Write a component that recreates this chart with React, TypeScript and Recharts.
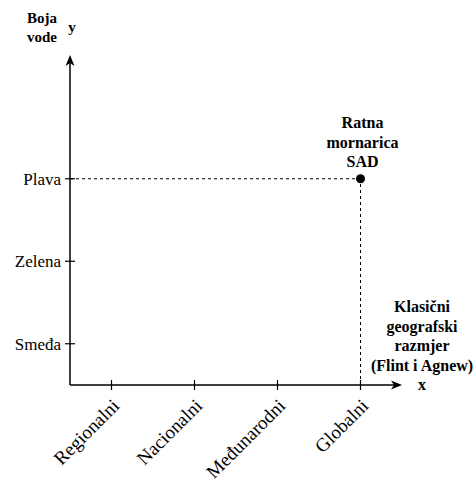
import React from "react";
import {
  ScatterChart,
  Scatter,
  XAxis,
  YAxis,
  ReferenceLine,
  LabelList,
} from "recharts";

// scale categories on each axis
const xCategories = ["Regionalni", "Nacionalni", "Međunarodni", "Globalni"];
const yCategories = ["Smeđa", "Zelena", "Plava"];
const xTicks = [1, 2, 3, 4];
const yTicks = [1, 2, 3];

// the single case placed on the chart
const pointName = ["Ratna", "mornarica", "SAD"];
const pointX = [4];
const pointY = [3];

const xTitle = ["Klasični", "geografski", "razmjer", "(Flint i Agnew)"];
const yTitle = ["Boja", "vode"];

const FONT = "Liberation Serif";
const DOMAIN: [number, number] = [0.5, 4.5];

const data = pointX.map((x, i) => ({ x, y: pointY[i], name: pointName.join(" ") }));

const plain = (size: number) => ({ fontFamily: FONT, fontSize: size, fill: "#000" });
const bold = (size: number) => ({ fontFamily: FONT, fontSize: size, fontWeight: 700, fill: "#000" });

const XTick = (props: any) => {
  const { x, y, payload } = props;
  const tx = x + 9;
  const ty = y + 22;
  return (
    <g>
      <line x1={x} y1={y - 5} x2={x} y2={y + 5} stroke="#000" strokeWidth={1.2} />
      <text x={tx} y={ty} textAnchor="end" transform={`rotate(-45, ${tx}, ${ty})`} style={plain(19)}>
        {xCategories[payload.value - 1]}
      </text>
    </g>
  );
};

const YTick = (props: any) => {
  const { x, y, payload } = props;
  return (
    <g>
      <line x1={x - 5} y1={y} x2={x + 5} y2={y} stroke="#000" strokeWidth={1.2} />
      <text x={x - 9} y={y + 6} textAnchor="end" style={plain(17)}>
        {yCategories[payload.value - 1]}
      </text>
    </g>
  );
};

// axis line with an arrow head at its far end
const Arrow = (props: any) => {
  const { x1, y1, x2, y2 } = props;
  const len = Math.hypot(x2 - x1, y2 - y1) || 1;
  const ux = (x2 - x1) / len;
  const uy = (y2 - y1) / len;
  const head = 11;
  const half = 4.5;
  const bx = x2 - ux * head;
  const by = y2 - uy * head;
  const nx = bx + ux * 3;
  const ny = by + uy * 3;
  return (
    <g>
      <line x1={x1} y1={y1} x2={nx} y2={ny} stroke="#000" strokeWidth={1.5} />
      <polygon
        points={`${x2},${y2} ${bx - uy * half},${by + ux * half} ${nx},${ny} ${bx + uy * half},${by - ux * half}`}
        fill="#000"
      />
    </g>
  );
};

const XTitle = (props: any) => {
  const vb = props.viewBox;
  const cx = vb.x + vb.width + 20;
  return (
    <g>
      {xTitle.map((line, i) => (
        <text key={line} x={cx} y={vb.y - 73 + i * 19.5} textAnchor="middle" style={bold(16)}>
          {line}
        </text>
      ))}
      <text x={cx} y={vb.y + 5} textAnchor="middle" style={bold(16)}>
        x
      </text>
    </g>
  );
};

const YTitle = (props: any) => {
  const vb = props.viewBox;
  const right = vb.x + vb.width;
  return (
    <g>
      {yTitle.map((line, i) => (
        <text key={line} x={right - 28} y={vb.y - 32 + i * 19} textAnchor="middle" style={bold(15)}>
          {line}
        </text>
      ))}
      <text x={right + 2} y={vb.y - 23} textAnchor="middle" style={bold(15)}>
        y
      </text>
    </g>
  );
};

const PointLabel = (props: any) => {
  const { x, y, width } = props;
  const cx = x + (width || 0) / 2;
  return (
    <g>
      {pointName.map((line, i) => (
        <text key={line} x={cx + 2} y={y - 46 + i * 19.5} textAnchor="middle" style={bold(16)}>
          {line}
        </text>
      ))}
    </g>
  );
};

function XTitleWrap(props: any) {
  return <XTitle {...props} />;
}

function YTitleWrap(props: any) {
  return <YTitle {...props} />;
}

export default function App() {
  return (
    <div style={{ position: "absolute", left: 0, top: 0, background: "#fff" }}>
      <ScatterChart width={475} height={483} margin={{ top: 55, right: 73, left: 0, bottom: 0 }}>
        <XAxis
          type="number"
          dataKey="x"
          domain={DOMAIN}
          ticks={xTicks}
          allowDataOverflow
          axisLine={false}
          tickLine={false}
          tickSize={0}
          tickMargin={0}
          tick={<XTick />}
          height={98}
          interval={0}
          label={<XTitleWrap />}
        />
        <YAxis
          type="number"
          dataKey="y"
          domain={DOMAIN}
          ticks={yTicks}
          allowDataOverflow
          axisLine={false}
          tickLine={false}
          tickSize={0}
          tickMargin={0}
          tick={<YTick />}
          width={70}
          interval={0}
          label={<YTitleWrap />}
        />
        <ReferenceLine
          segment={[{ x: 0.5, y: pointY[0] }, { x: pointX[0], y: pointY[0] }]}
          stroke="#000"
          strokeDasharray="3 3"
          strokeWidth={1}
        />
        <ReferenceLine
          segment={[{ x: pointX[0], y: 0.5 }, { x: pointX[0], y: pointY[0] }]}
          stroke="#000"
          strokeDasharray="3 3"
          strokeWidth={1}
        />
        <ReferenceLine segment={[{ x: 0.5, y: 0.5 }, { x: 4.5, y: 0.5 }]} shape={Arrow} />
        <ReferenceLine segment={[{ x: 0.5, y: 0.5 }, { x: 0.5, y: 4.5 }]} shape={Arrow} />
        <Scatter data={data} fill="#000" isAnimationActive={false} shape="circle">
          <LabelList dataKey="name" content={<PointLabel />} />
        </Scatter>
      </ScatterChart>
    </div>
  );
}
